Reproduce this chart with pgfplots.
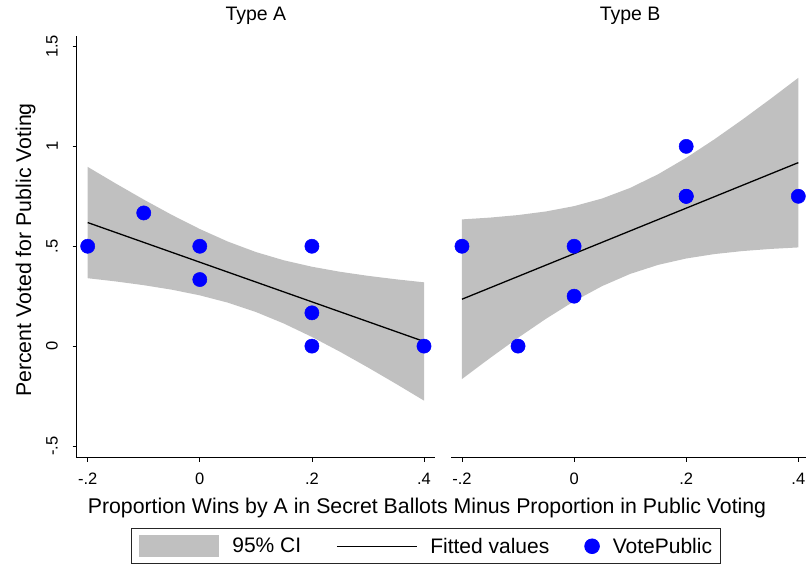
\documentclass[border=0pt]{standalone}
\usepackage{fontspec}
\setmainfont{Liberation Sans}
\usepackage{pgfplots}
\pgfplotsset{compat=1.18}
\definecolor{cigray}{RGB}{192,192,192}
\definecolor{dotblue}{RGB}{0,0,255}
\begin{document}
\begin{tikzpicture}[x=1pt,y=1pt]
\pgfplotsset{
  panel/.style={
    scale only axis, width=358.3pt, height=421.7pt,
    xmin=-0.2196, xmax=0.4196, ymin=-0.5585, ymax=1.5525,
    axis x line*=bottom, axis y line*=left,
    tick align=outside, major tick length=4pt,
    xtick={-0.2,0,0.2,0.4}, xticklabels={-.2,0,.2,.4},
    ytick={-0.5,0,0.5,1,1.5}, yticklabels={-.5,0,.5,1,1.5},
    tick style={black, line width=0.8pt},
    axis line style={black, line width=0.8pt},
    ticklabel style={font=\fontsize{16.5}{19}\selectfont},
    xticklabel style={anchor=north, inner sep=0pt},
    xticklabel shift=11.3pt,
    yticklabel style={rotate=90, anchor=south, inner sep=0pt},
    yticklabel shift=14.7pt,
    title style={font=\fontsize{19.5}{23}\selectfont, anchor=base, at={(0.5,1)}, yshift=9.3pt},
    clip=false,
  },
  ciband/.style={fill=cigray, draw=none,
    legend image code/.code={\fill[cigray] (0pt,-10.85pt) rectangle (80pt,10.85pt);}},
  fitline/.style={black, line width=1.3pt, no marks,
    legend image code/.code={\draw[black, line width=1pt] (0pt,0pt) -- (80pt,0pt);}},
  dots/.style={only marks, mark=*, mark size=7.1pt,
    mark options={fill=dotblue, draw=dotblue, line width=0.5pt},
    legend image code/.code={\fill[dotblue] (7.35pt,0pt) circle (7.35pt);}},
}
% ---------------- Type A ----------------
\begin{axis}[panel, at={(76.7pt,105.3pt)}, anchor=south west, title={Type A},
  legend columns=3,
  legend style={at={(0.1507,-0.1674)}, anchor=north west,
    draw=black!85, line width=0.8pt, inner xsep=8.3pt, inner ysep=6.7pt,
    font=\fontsize{21}{25}\selectfont,
    nodes={inner sep=0pt},
    column sep=0pt,
    /tikz/every odd column/.append style={column sep=13pt},
    /tikz/every even column/.append style={column sep=35pt}},
  legend cell align=left]
\addplot[ciband] coordinates {
  (-0.20,0.8973) (-0.15,0.8142) (-0.10,0.7337) (-0.05,0.6571) (0.00,0.5862)
  (0.05,0.5235) (0.10,0.4711) (0.15,0.4296) (0.20,0.3975) (0.25,0.3723)
  (0.30,0.3519) (0.35,0.3346) (0.40,0.3194)
  (0.40,-0.2728) (0.35,-0.1887) (0.30,-0.1068) (0.25,-0.0280) (0.20,0.0460)
  (0.15,0.1131) (0.10,0.1709) (0.05,0.2177) (0.00,0.2542) (-0.05,0.2826)
  (-0.10,0.3051) (-0.15,0.3239) (-0.20,0.3400)
} -- cycle;
\addlegendentry{95\% CI}
\addplot[fitline] coordinates {(-0.2,0.6186) (0.4,0.0233)};
\addlegendentry{Fitted values}
\addplot[dots] coordinates {
  (-0.2,0.5) (-0.1,0.6667) (0,0.5) (0,0.3333) (0.2,0.5) (0.2,0.1667) (0.2,0) (0.4,0)
};
\addlegendentry{VotePublic\hspace{6pt}}
\end{axis}
% ---------------- Type B ----------------
\begin{axis}[panel, at={(451pt,105.3pt)}, anchor=south west, title={Type B},
  axis y line=none]
\addplot[ciband] coordinates {
  (-0.20,0.6344) (-0.15,0.6434) (-0.10,0.6561) (-0.05,0.6743) (0.00,0.7008)
  (0.05,0.7390) (0.10,0.7920) (0.15,0.8606) (0.20,0.9427) (0.25,1.0347)
  (0.30,1.1335) (0.35,1.2368) (0.40,1.3431)
  (0.40,0.4941) (0.35,0.4865) (0.30,0.4758) (0.25,0.4607) (0.20,0.4387)
  (0.15,0.4068) (0.10,0.3615) (0.05,0.3006) (0.00,0.2248) (-0.05,0.1373)
  (-0.10,0.0416) (-0.15,-0.0597) (-0.20,-0.1646)
} -- cycle;
\addplot[fitline] coordinates {(-0.2,0.2349) (0.4,0.9186)};
\addplot[dots] coordinates {
  (-0.2,0.5) (-0.1,0) (0,0.5) (0,0.25) (0.2,1) (0.2,0.75) (0.2,0.75) (0.4,0.75)
};
\end{axis}
% ---------------- shared labels ----------------
\node[rotate=90, anchor=base, font=\fontsize{21.3}{25}\selectfont] at (31pt,313pt)
  {Percent Voted for Public Voting};
\node[anchor=base, font=\fontsize{21.3}{25}\selectfont] at (427pt,49.7pt)
  {Proportion Wins by A in Secret Ballots Minus Proportion in Public Voting};
\pgfresetboundingbox
\useasboundingbox (0pt,0pt) rectangle (806pt,563pt);
\end{tikzpicture}
\end{document}
